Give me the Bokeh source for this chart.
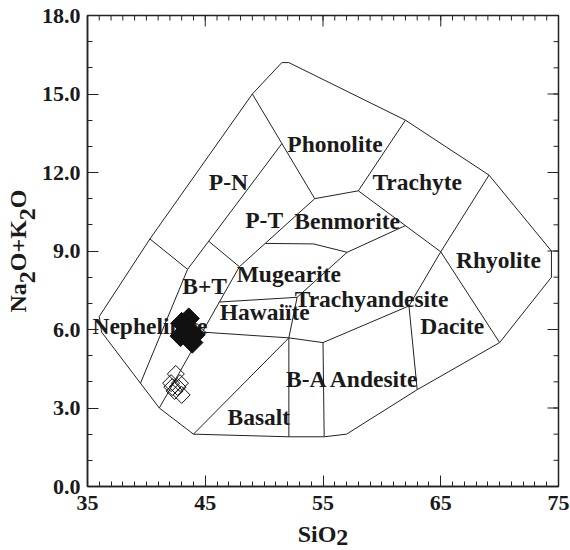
import numpy as np
from bokeh.plotting import figure
from bokeh.models import FixedTicker, PrintfTickFormatter, ColumnDataSource, LinearAxis
from bokeh.embed import file_html
from bokeh.resources import INLINE
from bokeh.core.properties import value

# ---- field boundaries (SiO2, Na2O+K2O) ----
OUTER_X = [36.0, 40.3, 49.0, 51.5, 52.1, 62.0, 69.1, 74.4, 74.4, 70.0, 63.0, 57.0, 55.1, 52.1, 44.0, 41.1, 36.2, 36.0]
OUTER_Y = [6.5, 9.46, 15.0, 16.2, 16.2, 14.0, 11.9, 9.0, 8.0, 5.5, 3.7, 2.0, 1.9, 1.9, 2.0, 3.0, 5.9, 6.5]

PN_BOTTOM = ([40.3, 43.5], [9.46, 8.3])
BT_NEPH = ([43.5, 39.5], [8.3, 3.95])
PN_PT = ([43.5, 51.5], [8.3, 13.1])
PN_PHON = ([49.0, 54.3], [15.0, 11.0])
PT_BT = ([45.3, 47.9], [9.37, 8.4])
BT_HAW = ([41.1, 47.9], [3.0, 8.4])
PT_BENM = ([47.9, 54.3], [8.4, 11.0])
PHON_BOTTOM = ([54.3, 58.0], [11.0, 11.3])
PHON_TRACH = ([58.0, 62.0], [11.3, 14.0])
TRACH_BOTTOM = ([58.0, 65.0], [11.3, 8.97])
TRACH_RHYO = ([69.1, 65.0, 62.3], [11.9, 8.97, 6.9])
RHYO_DAC = ([65.0, 70.0], [8.97, 5.5])
BENM_BOTTOM = ([57.05, 62.0], [8.95, 9.97])
MUG_TOP = ([50.1, 54.2, 57.05], [9.29, 9.27, 8.95])
MUG_TA = ([57.05, 52.8, 52.1], [8.95, 7.23, 5.68])
HAW_TOP = ([46.2, 52.8], [7.05, 7.23])
HAW_BOTTOM = ([44.75, 52.1, 55.0], [5.9, 5.68, 5.5])
BAS_DIAG = ([44.0, 52.1], [2.0, 5.68])
BAS_BA = ([52.1, 52.1], [5.68, 1.9])
BA_LEFT = ([55.0, 55.1], [5.5, 1.9])
TA_BOTTOM = ([55.0, 62.3], [5.5, 6.9])
TA_DAC = ([62.3, 63.0], [6.9, 3.7])

# ---- field names ----
FIELD_NAMES = ["P-N", "Phonolite", "Trachyte", "P-T", "Benmorite", "Rhyolite", "Mugearite",
               "B+T", "Hawaiïte", "Trachyandesite", "Nephelinite", "Dacite", "B-A Andesite", "Basalt"]
FIELD_X = [46.97, 56.02, 63.0, 50.0, 57.05, 69.9, 52.1, 44.95, 50.05, 59.12, 40.3, 65.97, 57.55, 49.55]
FIELD_Y = [11.65, 13.1, 11.65, 10.2, 10.15, 8.65, 8.14, 7.65, 6.65, 7.18, 6.15, 6.15, 4.12, 2.65]

# ---- samples ----
FILLED_SIO2 = [43.6, 43.0, 42.9, 43.9, 44.1, 43.4]
FILLED_ALK = [6.42, 6.25, 5.75, 5.5, 5.8, 6.0]
OPEN_SIO2 = [42.5, 42.1, 42.85, 42.4, 43.0, 42.2, 42.65, 44.3]
OPEN_ALK = [4.3, 3.95, 3.95, 3.65, 3.5, 3.8, 3.8, 5.9]

# ---- ticks ----
X_TICKS = [35, 45, 55, 65, 75]
X_MINOR = list(range(35, 76))
Y_TICKS = [0, 3, 6, 9, 12, 15, 18]
Y_MINOR = list(range(0, 19))

# ---- axis titles: pieces (text, is_subscript) ----
X_TITLE = [("SiO", False), ("2", True)]
Y_TITLE = [("Na", False), ("2", True), ("O+K", False), ("2", True), ("O", False)]

FONT = "Liberation Serif"
INK = "#1a1a1a"
TITLE_PX = 24
ADV = {"S": .556, "i": .278, "O": .778, "N": .722, "a": .5, "+": .570, "K": .778, "2": .5}
EN_SPACE = "\u2002"  # same advance as a digit

X0, X1, Y0, Y1 = 35, 75, 0, 18
W, H = 570, 550
BL, BR, BT, BB = 87, 12, 15, 64
FW, FH = W - BL - BR, H - BT - BB

p = figure(width=W, height=H, x_range=(X0, X1), y_range=(Y0, Y1),
           output_backend="svg", toolbar_location=None,
           min_border_left=BL, min_border_right=BR, min_border_top=BT, min_border_bottom=BB,
           background_fill_color="white", border_fill_color="white")
p.grid.visible = False
p.outline_line_color = "#222222"
p.outline_line_width = 1.5

def title_parts(pieces):
    main = "".join(EN_SPACE if sub else t for t, sub in pieces)
    total = sum(ADV[c] for t, _ in pieces for c in t) * TITLE_PX
    subs, pos = [], -total / 2
    for t, sub in pieces:
        wpx = sum(ADV[c] for c in t) * TITLE_PX
        if sub:
            subs.append(pos + wpx / 2)
        pos += wpx
    return main, subs  # subscript centres, px from frame centre

x_main, x_subs_px = title_parts(X_TITLE)
y_main, y_subs_px = title_parts(Y_TITLE)
x_subs = [(X0 + X1) / 2 + d * (X1 - X0) / FW for d in x_subs_px]
y_subs = [(Y0 + Y1) / 2 + d * (Y1 - Y0) / FH for d in y_subs_px]

def style_text(ax, size):
    ax.major_label_text_font = FONT
    ax.major_label_text_font_style = "bold"
    ax.major_label_text_font_size = size
    ax.major_label_text_color = INK

for ax, ticks, minor in ((p.xaxis[0], X_TICKS, X_MINOR), (p.yaxis[0], Y_TICKS, Y_MINOR)):
    ax.ticker = FixedTicker(ticks=ticks, minor_ticks=minor)
    ax.major_tick_in = 11
    ax.major_tick_out = 0
    ax.minor_tick_in = 5
    ax.minor_tick_out = 0
    ax.major_tick_line_color = "#222222"
    ax.minor_tick_line_color = "#222222"
    ax.axis_line_color = "#222222"
    ax.axis_line_width = 1.5
    style_text(ax, "22px")
    ax.axis_label_text_font = FONT
    ax.axis_label_text_font_style = "bold"
    ax.axis_label_text_font_size = f"{TITLE_PX}px"
    ax.axis_label_text_color = INK

p.yaxis[0].formatter = PrintfTickFormatter(format="%.1f")
p.yaxis[0].major_label_standoff = 7
p.xaxis[0].major_label_standoff = 9
p.xaxis[0].axis_label = x_main
p.yaxis[0].axis_label = y_main
p.xaxis[0].axis_label_standoff = 8
p.yaxis[0].axis_label_standoff = 8

# full-size, lowered subscripts "2" carried by label-only axes
def sub_axis(ticks, standoff, orientation="horizontal"):
    ax = LinearAxis(ticker=FixedTicker(ticks=ticks, minor_ticks=[]),
                    major_label_overrides={t: "2" for t in ticks},
                    major_tick_line_color=None, minor_tick_line_color=None,
                    axis_line_color=None, major_label_standoff=standoff,
                    major_label_orientation=orientation)
    style_text(ax, f"{TITLE_PX}px")
    return ax

p.add_layout(sub_axis(x_subs, -26), "below")
p.add_layout(sub_axis(y_subs, -40, "parallel"), "left")

# ticks on the top and right edges of the frame (inside), from the tick lists
px_per_y = FH / (Y1 - Y0)
px_per_x = FW / (X1 - X0)
tx = X_TICKS + X_MINOR
tl = [11 / px_per_y] * len(X_TICKS) + [5 / px_per_y] * len(X_MINOR)
p.segment(x0=tx, x1=tx, y0=[Y1] * len(tx), y1=[Y1 - d for d in tl], line_color="#222222", line_width=1)
ty = Y_TICKS + Y_MINOR
tr = [11 / px_per_x] * len(Y_TICKS) + [5 / px_per_x] * len(Y_MINOR)
p.segment(x0=[X1] * len(ty), x1=[X1 - d for d in tr], y0=ty, y1=ty, line_color="#222222", line_width=1)

# boundaries
p.line(OUTER_X, OUTER_Y, line_color="#222222", line_width=1)
inner = [PN_BOTTOM, BT_NEPH, PN_PT, PN_PHON, PT_BT, BT_HAW, PT_BENM, PHON_BOTTOM, PHON_TRACH,
         TRACH_BOTTOM, TRACH_RHYO, RHYO_DAC, BENM_BOTTOM, MUG_TOP, MUG_TA, HAW_TOP, HAW_BOTTOM,
         BAS_DIAG, BAS_BA, BA_LEFT, TA_BOTTOM, TA_DAC]
p.multi_line([s[0] for s in inner], [s[1] for s in inner], line_color="#222222", line_width=1)

# field names
src = ColumnDataSource(dict(x=FIELD_X, y=FIELD_Y, t=FIELD_NAMES))
p.text(x="x", y="y", text="t", source=src, text_font=value(FONT), text_font_style="bold",
       text_font_size="23.5px", text_align="center", text_baseline="middle", text_color=INK)

# samples
p.scatter(OPEN_SIO2, OPEN_ALK, marker="square", angle=np.pi / 4, size=12,
          fill_alpha=0, line_color="#111111", line_width=1)
p.scatter(FILLED_SIO2, FILLED_ALK, marker="square", angle=np.pi / 4, size=15,
          fill_color="#111111", line_color="#111111", line_width=1)

open("out.html", "w").write(file_html(p, INLINE))
